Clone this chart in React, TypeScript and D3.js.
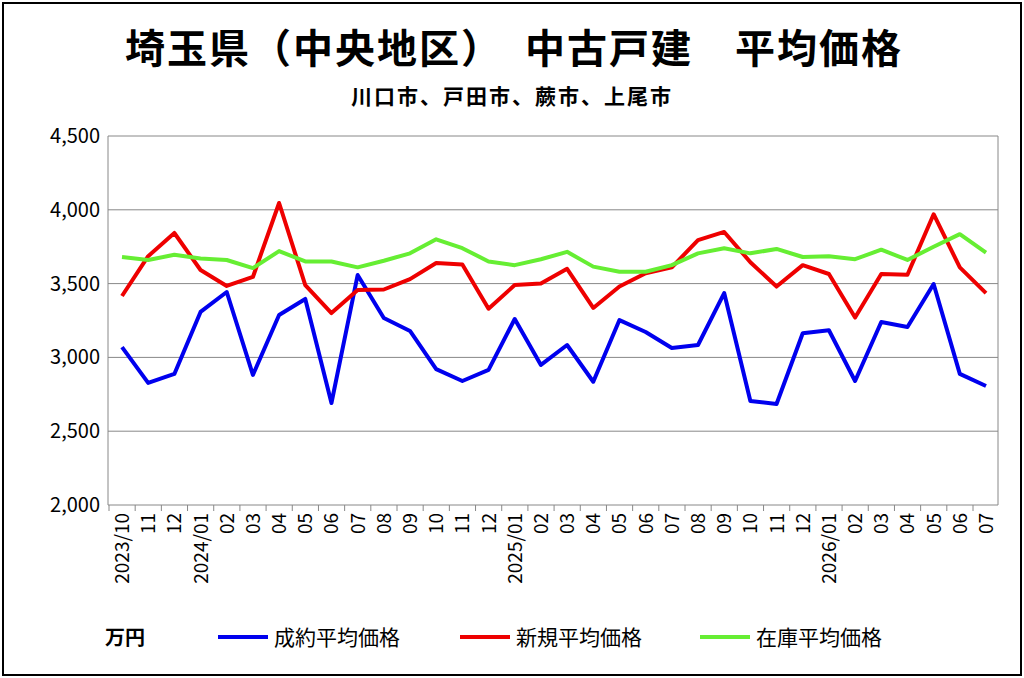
import * as d3 from "d3";

const months = [
  "2023/10", "11", "12", "2024/01", "02", "03", "04", "05", "06", "07", "08", "09", "10", "11", "12",
  "2025/01", "02", "03", "04", "05", "06", "07", "08", "09", "10", "11", "12",
  "2026/01", "02", "03", "04", "05", "06", "07",
];
const seiyaku = [3070, 2827, 2888, 3308, 3443, 2881, 3287, 3396, 2691, 3558, 3267, 3179, 2921, 2840, 2915,
  3260, 2949, 3084, 2835, 3253, 3172, 3064, 3084, 3436, 2705, 2684, 3164, 3184, 2840, 3240, 3206, 3497, 2888, 2806];
const shinki = [3416, 3686, 3843, 3592, 3484, 3545, 4046, 3490, 3300, 3457, 3460, 3530, 3640, 3630, 3330,
  3490, 3500, 3600, 3335, 3480, 3570, 3610, 3795, 3850, 3645, 3480, 3625, 3565, 3270, 3565, 3560, 3970, 3610, 3435];
const zaiko = [3680, 3660, 3695, 3670, 3660, 3605, 3720, 3650, 3650, 3610, 3655, 3705, 3800, 3740, 3650,
  3625, 3665, 3715, 3615, 3580, 3580, 3625, 3705, 3740, 3705, 3735, 3680, 3685, 3665, 3730, 3660, 3750, 3835, 3710];
const yTicks = [2000, 2500, 3000, 3500, 4000, 4500];

const series = [
  { name: "成約平均価格", values: seiyaku, color: "#0000ee" },
  { name: "新規平均価格", values: shinki, color: "#ee0000" },
  { name: "在庫平均価格", values: zaiko, color: "#66ee33" },
];

const W = 1024, H = 678;
const left = 108, right = 998, top = 136, bottom = 505;
const font = "'Noto Sans CJK JP', 'Noto Sans', sans-serif";

export default function App() {
  const x = d3.scalePoint<number>().domain(months.map((_, i) => i)).range([122, 986]);
  const y = d3.scaleLinear().domain([2000, 4500]).range([bottom, top]);
  const line = (vals: number[]) =>
    d3.line<number>().x((_, i) => x(i)!).y((d) => y(d))(vals)!;
  const legendX = [218, 460, 700];

  return (
    <svg width={W} height={H} style={{ position: "absolute", left: 0, top: 0 }} fontFamily={font}>
      <rect x={0} y={0} width={W} height={H} fill="#fff" />
      <rect x={3} y={3} width={W - 6} height={H - 6} fill="none" stroke="#000" strokeWidth={2} />
      <text x={514} y={63} textAnchor="middle" fontSize={40} fontWeight="bold" letterSpacing={2}>
        埼玉県（中央地区）　中古戸建　平均価格
      </text>
      <text x={512} y={104} textAnchor="middle" fontSize={21} fontWeight="bold" letterSpacing={2}>
        川口市、戸田市、蕨市、上尾市
      </text>
      {yTicks.map((t) => (
        <g key={t}>
          <line x1={left} x2={right} y1={y(t)} y2={y(t)} stroke="#888" strokeWidth={1} />
          <text x={left - 8} y={y(t) + 7} textAnchor="end" fontSize={20}>
            {d3.format(",")(t)}
          </text>
        </g>
      ))}
      <line x1={left} x2={left} y1={top} y2={bottom} stroke="#888" />
      <line x1={right} x2={right} y1={top} y2={bottom} stroke="#888" />
      {months.map((m, i) => (
        <g key={i}>
          <line x1={x(i)! - 13} x2={x(i)! - 13} y1={bottom} y2={bottom + 6} stroke="#888" />
          <text transform={`translate(${x(i)! + 7},${bottom + 8}) rotate(-90)`} textAnchor="end" fontSize={19}>
            {m}
          </text>
        </g>
      ))}
      {series.map((s) => (
        <path key={s.name} d={line(s.values)} fill="none" stroke={s.color} strokeWidth={4} strokeLinejoin="round" />
      ))}
      <text x={105} y={645} fontSize={20} fontWeight="bold">万円</text>
      {series.map((s, i) => (
        <g key={s.name}>
          <line x1={legendX[i]} x2={legendX[i] + 50} y1={637} y2={637} stroke={s.color} strokeWidth={4} />
          <text x={legendX[i] + 56} y={645} fontSize={21}>{s.name}</text>
        </g>
      ))}
    </svg>
  );
}
